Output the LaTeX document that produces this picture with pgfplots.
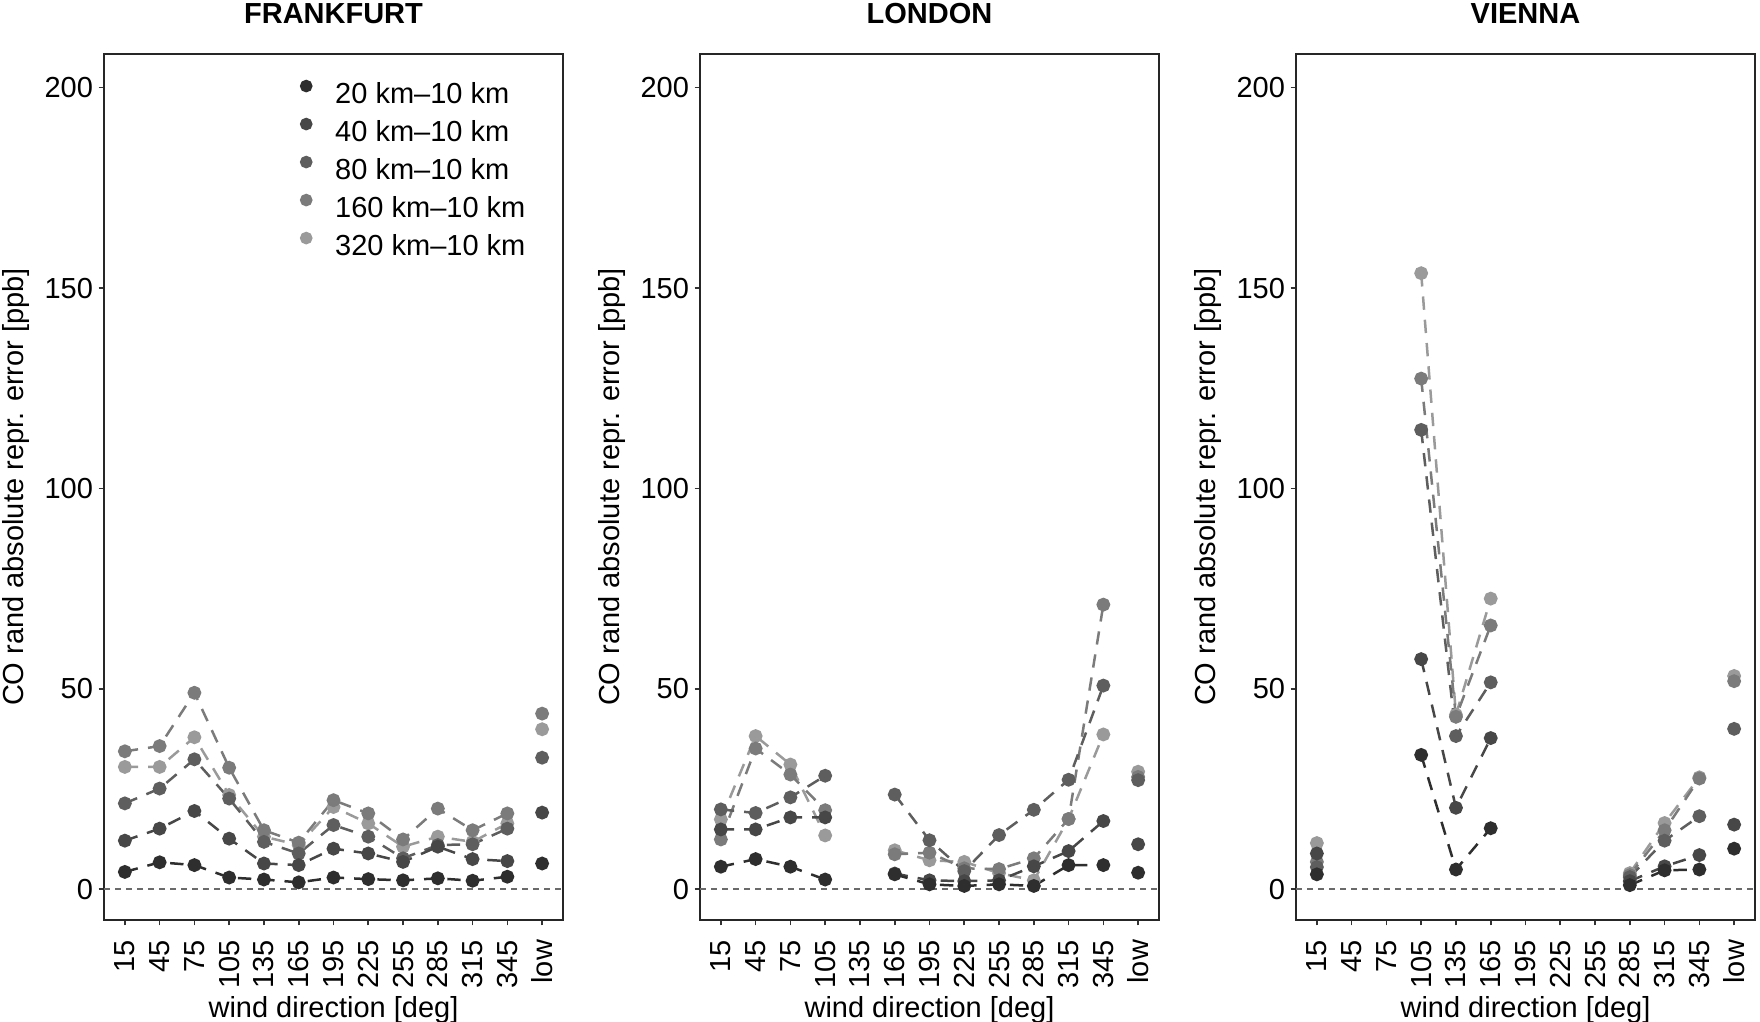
\documentclass[border=0pt]{standalone}
\usepackage{fontspec}
\setmainfont{Liberation Sans}
\setsansfont{Liberation Sans}
\usepackage{pgfplots}
\pgfplotsset{compat=1.18}

\definecolor{cA}{HTML}{2E2E2E}
\definecolor{cB}{HTML}{474747}
\definecolor{cC}{HTML}{5E5E5E}
\definecolor{cD}{HTML}{7B7B7B}
\definecolor{cE}{HTML}{9A9A9A}
\definecolor{zl}{HTML}{6A6A6A}

\newcommand{\fs}{\fontsize{8.7}{10.4}\selectfont}

\pgfplotsset{
  panel/.style={
    scale only axis,
    width=137.7pt, height=259.8pt,
    anchor=south west,
    xmin=-0.6, xmax=12.6, ymin=-7.7, ymax=208.4,
    xtick={0,...,12},
    xticklabels={15,45,75,105,135,165,195,225,255,285,315,345,low},
    ytick={0,50,100,150,200},
    xtick pos=bottom, ytick pos=left,
    tick align=outside,
    major tick length=1.6pt,
    tick style={line width=0.5pt, color=black!80},
    axis line style={line width=0.6pt, color=black!85},
    /pgf/number format/assume math mode=true,
    ticklabel style={font=\fs},
    xticklabel style={rotate=90, anchor=east, inner sep=4.2pt},
    yticklabel style={inner sep=1.5pt},
    label style={font=\fs},
    every axis title shift=0pt,
    title style={font=\fs\bfseries, anchor=center, at={(0.5,1.0468)}, yshift=0pt},
    xlabel style={anchor=center, at={(0.5,-0.1035)}},
    ylabel style={anchor=center, at={(-0.1925,0.5)}, rotate=0},
    xlabel={wind direction [deg]},
    ylabel={CO rand absolute repr. error [ppb]},
    unbounded coords=jump,
    clip=false,
  },
  ser/.style={color=#1, line width=0.75pt, dash pattern=on 4pt off 3pt,
    mark=*, mark size=1.7pt, mark options={solid, fill=#1, draw=#1}},
  zero/.style={color=zl, line width=0.6pt, dash pattern=on 1.8pt off 1.5pt, forget plot},
}

\begin{document}
\begin{tikzpicture}
\path[use as bounding box] (0,0) rectangle (528pt,306.3pt);

% ---------------- FRANKFURT ----------------
\begin{axis}[panel, at={(31.2pt,30.3pt)}, title={FRANKFURT},
  legend style={draw=none, fill=none, at={(0.405,0.978)}, anchor=north west,
    font=\fs, row sep=3.0pt, column sep=7.0pt, nodes={inner sep=0pt}},
  legend cell align=left,
  legend image code/.code={\draw[#1] plot coordinates {(1.65pt,0.28em)};},
]
\addplot[zero] coordinates {(-0.6,0) (12.6,0)};
\addlegendimage{only marks, mark=*, mark size=1.7pt, color=cA}
\addlegendentry{20 km–10 km}
\addlegendimage{only marks, mark=*, mark size=1.7pt, color=cB}
\addlegendentry{40 km–10 km}
\addlegendimage{only marks, mark=*, mark size=1.7pt, color=cC}
\addlegendentry{80 km–10 km}
\addlegendimage{only marks, mark=*, mark size=1.7pt, color=cD}
\addlegendentry{160 km–10 km}
\addlegendimage{only marks, mark=*, mark size=1.7pt, color=cE}
\addlegendentry{320 km–10 km}
\addplot[ser=cE, forget plot] coordinates {(0,30.5)(1,30.5)(2,37.9)(3,23.5)(4,13.1)(5,11.0)(6,20.5)(7,16.4)(8,10.6)(9,13.1)(10,11.8)(11,16.4)(11.5,nan)(12,39.9)};
\addplot[ser=cD, forget plot] coordinates {(0,34.4)(1,35.7)(2,49.0)(3,30.3)(4,14.7)(5,11.6)(6,22.2)(7,18.9)(8,12.4)(9,20.1)(10,14.7)(11,18.9)(11.5,nan)(12,43.8)};
\addplot[ser=cC, forget plot] coordinates {(0,21.4)(1,25.1)(2,32.4)(3,22.6)(4,11.8)(5,8.9)(6,16.0)(7,13.1)(8,7.7)(9,11.0)(10,11.2)(11,15.1)(11.5,nan)(12,32.8)};
\addplot[ser=cB, forget plot] coordinates {(0,12.1)(1,15.1)(2,19.5)(3,12.6)(4,6.4)(5,6.0)(6,10.1)(7,8.9)(8,6.8)(9,10.6)(10,7.5)(11,7.0)(11.5,nan)(12,19.1)};
\addplot[ser=cA, forget plot] coordinates {(0,4.3)(1,6.7)(2,6.0)(3,2.9)(4,2.4)(5,1.7)(6,2.9)(7,2.5)(8,2.2)(9,2.7)(10,2.1)(11,3.1)(11.5,nan)(12,6.4)};
\end{axis}

% ---------------- LONDON ----------------
\begin{axis}[panel, at={(210pt,30.3pt)}, title={LONDON}]
\addplot[zero] coordinates {(-0.6,0) (12.6,0)};
\addplot[ser=cE] coordinates {(0,17.4)(1,38.2)(2,31.1)(3,13.4)(4,nan)(5,9.7)(6,7.2)(7,6.8)(8,4.0)(9,2.2)(10,17.5)(11,38.6)(11.5,nan)(12,29.3)};
\addplot[ser=cD] coordinates {(0,12.4)(1,35.1)(2,28.6)(3,19.7)(4,nan)(5,8.7)(6,9.1)(7,5.2)(8,5.0)(9,7.7)(10,17.5)(11,71.0)(11.5,nan)(12,28.0)};
\addplot[ser=cC] coordinates {(0,19.9)(1,19.0)(2,22.9)(3,28.3)(4,nan)(5,23.6)(6,12.2)(7,4.5)(8,13.5)(9,19.8)(10,27.3)(11,50.8)(11.5,nan)(12,27.2)};
\addplot[ser=cB] coordinates {(0,14.9)(1,14.9)(2,17.9)(3,17.9)(4,nan)(5,3.9)(6,2.2)(7,2.0)(8,2.2)(9,5.7)(10,9.5)(11,17.0)(11.5,nan)(12,11.2)};
\addplot[ser=cA] coordinates {(0,5.6)(1,7.5)(2,5.6)(3,2.4)(4,nan)(5,3.7)(6,1.2)(7,0.8)(8,1.2)(9,0.8)(10,6.0)(11,6.0)(11.5,nan)(12,4.1)};
\end{axis}

% ---------------- VIENNA ----------------
\begin{axis}[panel, at={(388.8pt,30.3pt)}, title={VIENNA}]
\addplot[zero] coordinates {(-0.6,0) (12.6,0)};
\addplot[ser=cE] coordinates {(0,11.5)(1,nan)(3,153.7)(4,43.5)(5,72.5)(6,nan)(9,4.0)(10,16.5)(11,27.9)(11.5,nan)(12,53.2)};
\addplot[ser=cD] coordinates {(0,6.8)(1,nan)(3,127.4)(4,43.0)(5,65.8)(6,nan)(9,3.5)(10,14.7)(11,27.6)(11.5,nan)(12,51.9)};
\addplot[ser=cC] coordinates {(0,5.5)(1,nan)(3,114.6)(4,38.2)(5,51.6)(6,nan)(9,3.0)(10,12.1)(11,18.2)(11.5,nan)(12,40.0)};
\addplot[ser=cB] coordinates {(0,8.9)(1,nan)(3,57.4)(4,20.3)(5,37.7)(6,nan)(9,2.0)(10,5.7)(11,8.5)(11.5,nan)(12,16.1)};
\addplot[ser=cA] coordinates {(0,3.7)(1,nan)(3,33.5)(4,4.9)(5,15.2)(6,nan)(9,1.0)(10,4.7)(11,4.9)(11.5,nan)(12,10.1)};
\end{axis}
\end{tikzpicture}
\end{document}
